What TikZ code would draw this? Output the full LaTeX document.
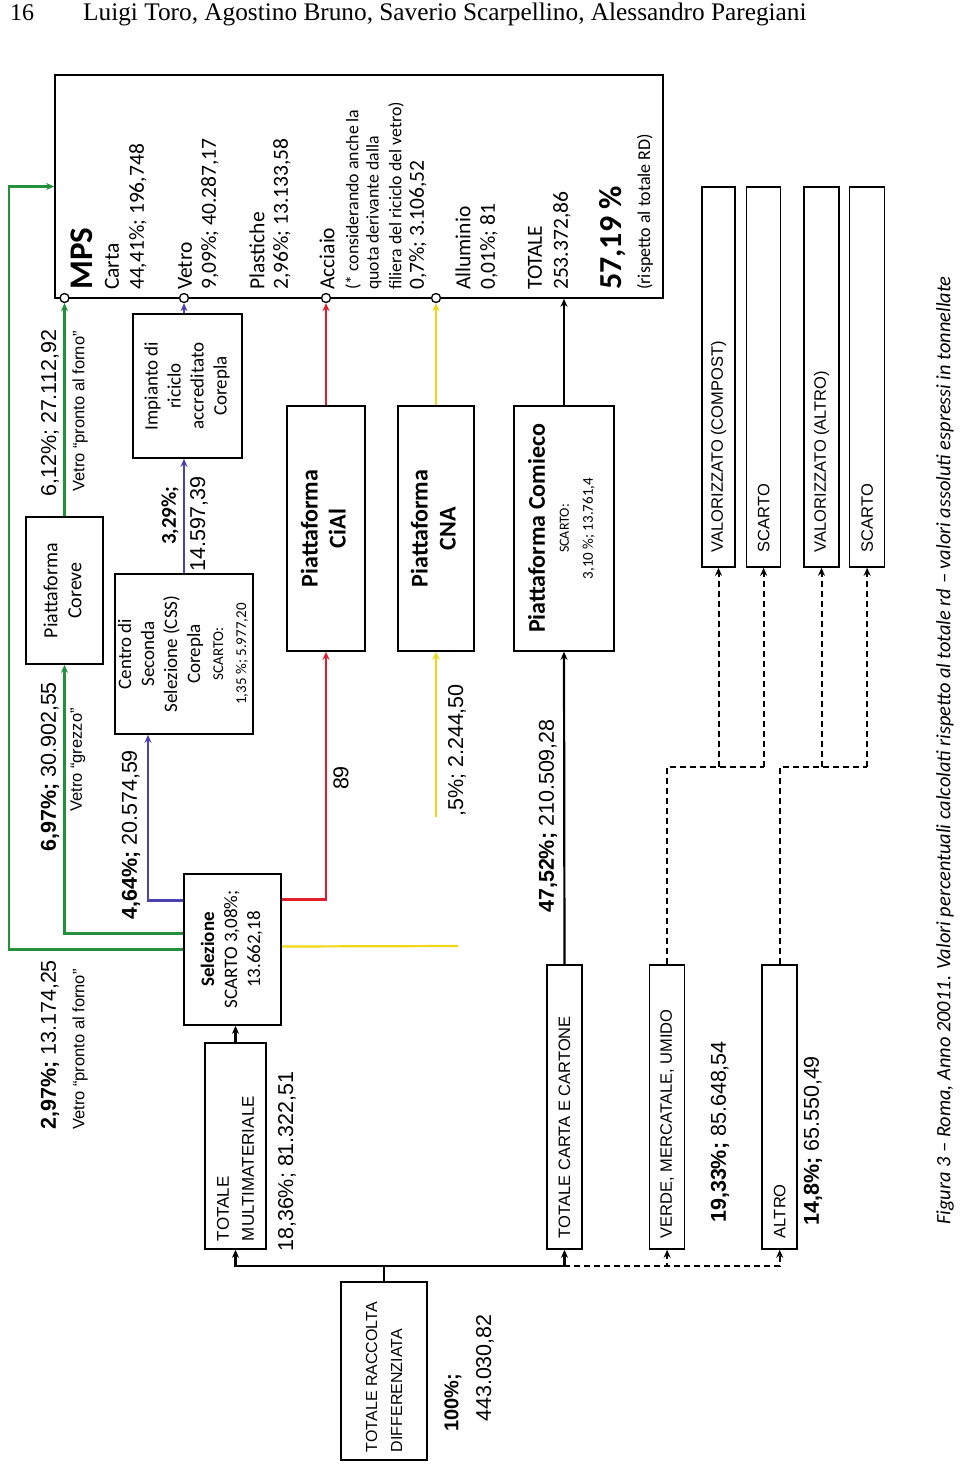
\documentclass[tikz,border=0pt]{standalone}
\usepackage{fontspec}
\usepackage{graphicx}
\setmainfont{Carlito}
\newfontfamily\arialf{Liberation Sans}
\newfontfamily\serf{Liberation Serif}
\usetikzlibrary{arrows.meta,positioning,calc}
\definecolor{VetroGreen}{RGB}{35,145,60}
\definecolor{PlastBlue}{RGB}{75,65,175}
\definecolor{AccRed}{RGB}{225,30,45}
\definecolor{AlYellow}{RGB}{240,215,20}
\newcommand{\fs}[2]{\fontsize{#1}{#2}\selectfont}
\newcommand{\rotmid}[1]{\rotatebox{90}{\begin{tabular}{@{}c@{}}#1\end{tabular}}}
\newcommand{\rotleft}[2]{\rotatebox{90}{\parbox{#1}{\raggedright #2}}}

\begin{document}
\begin{tikzpicture}[x=1pt,y=-1pt,>={Stealth[length=8pt,width=7pt]},
    box/.style 2 args={draw,line width=1.6pt,inner sep=0pt,minimum width=#1,minimum height=#2},
    port/.style={circle,draw,line width=1.3pt,fill=white,inner sep=0pt,minimum size=9pt},
    rot/.style={rotate=90,inner sep=0pt,anchor=west},
    mpsline/.style={rot,font=\fs{21.5}{24}},
    note/.style={rot,font=\fs{17.8}{20}},
    lab/.style={rot,font=\arialf\fs{21.5}{24}},
    labsmall/.style={rot,font=\arialf\fs{16.5}{19}},
    flow/.style={line width=2.2pt},
    dflow/.style={line width=2pt,dash pattern=on 6pt off 4pt}]

    \useasboundingbox (0,0) rectangle (960,1465);

    % page header
    \node[anchor=base west,inner sep=0pt,font=\serf\fs{24}{28}] (pagenum) at (10,20) {16};
    \node[anchor=base west,inner sep=0pt,font=\serf\fs{25.3}{28}] (authors) at (83,20)
        {Luigi Toro, Agostino Bruno, Saverio Scarpellino, Alessandro Paregiani};

    % the MPS box and its inlets
    \node[box={608pt}{223pt}] (mps) at (359,186.5) {};
    \node[port] (pcarta) at (64.5,298) {};
    \node[port] (pvetro) at (184,298) {};
    \node[port] (pacc) at (326,298) {};
    \node[port] (pall) at (436,298) {};

    % contents of the MPS box
    \node[rot,font=\fs{33}{36}\bfseries] (mpstitle) at (82,290) {MPS};
    \foreach \x/\t in {112/Carta, 138/{44,41\%; 196,748}, 185/Vetro, 210/{9,09\%; 40.287,17},
        257/Plastiche, 282/{2,96\%; 13.133,58}, 327/Acciaio, 418/{0,7\%; 3.106,52},
        463/Alluminio, 489/{0,01\%; 81}, 535/TOTALE, 562/{253.372,86}}
        \node[mpsline] (mt\x) at (\x,290) {\t};
    \node[note] (nota1) at (353,290) {(* considerando anche la};
    \node[note] (nota2) at (374,290) {quota derivante dalla};
    \node[note] (nota3) at (396,290) {filiera del riciclo del vetro)};
    \node[rot,font=\fs{32}{36}\bfseries] (quota) at (613,290) {57,19 \%};
    \node[rot,font=\fs{18}{20}] (rispetto) at (645,290) {(rispetto al totale RD)};

    % platforms and plants
    \node[box={77pt}{147pt},font=\fs{20}{24}] (coreve) at (64.5,590.5) {\rotmid{Piattaforma\\Coreve}};
    \node[box={136pt}{160pt},font=\fs{19}{23}] (css) at (184,654)
        {\rotmid{Centro di\\Seconda\\Selezione (CSS)\\Corepla\\{\fs{15}{22}SCARTO:}\\{\fs{15}{22}1,35 \%; 5.977,20}}};
    \node[box={109pt}{144pt},font=\fs{19}{23}] (impianto) at (187.5,386)
        {\rotmid{Impianto di\\riciclo\\accreditato\\Corepla}};
    \node[box={97pt}{151pt},font=\fs{19}{23}] (sel) at (232.5,949.5)
        {\rotmid{\textbf{Selezione}\\SCARTO 3,08\%;\\13.662,18}};
    \node[box={78pt}{245pt},font=\fs{24}{28}\bfseries] (cial) at (326,528.5) {\rotmid{Piattaforma\\CiAl}};
    \node[box={76pt}{245pt},font=\fs{24}{28}\bfseries] (cna) at (436,528.5) {\rotmid{Piattaforma\\CNA}};
    \node[box={100pt}{245pt},font=\fs{24}{24}] (comieco) at (564,528.5)
        {\rotmid{\textbf{Piattaforma Comieco}\\{\fs{14}{22}SCARTO:}\\{\fs{15}{22}3,10 \%; 13.761,4}}};

    % collected fractions
    \node[box={61pt}{206pt},font=\arialf\fs{17}{25}] (multi) at (235.5,1146) {\rotleft{190pt}{TOTALE\\MULTIMATERIALE}};
    \node[box={35pt}{284pt},font=\arialf\fs{16.5}{20}] (tcc) at (564.5,1107) {\rotleft{262pt}{TOTALE CARTA E CARTONE}};
    \node[box={35pt}{284pt},font=\arialf\fs{16.5}{20},right=66pt of tcc] (verde) {\rotleft{262pt}{VERDE, MERCATALE, UMIDO}};
    \node[box={35pt}{284pt},font=\arialf\fs{16.5}{20},right=76pt of verde] (altro) {\rotleft{262pt}{ALTRO}};
    \node[box={86pt}{178pt},font=\arialf\fs{16}{25}] (trd) at (384,1371) {\rotleft{162pt}{TOTALE RACCOLTA\\DIFFERENZIATA}};

    % destinations of organic and other
    \node[box={33pt}{380pt},font=\arialf\fs{16.5}{20}] (valc) at (718.5,377) {\rotleft{350pt}{VALORIZZATO (COMPOST)}};
    \node[box={34pt}{380pt},font=\arialf\fs{16.5}{20},right=10pt of valc] (scc) {\rotleft{350pt}{SCARTO}};
    \node[box={35pt}{380pt},font=\arialf\fs{16.5}{20}] (vala) at (821.5,377) {\rotleft{350pt}{VALORIZZATO (ALTRO)}};
    \node[box={35pt}{380pt},font=\arialf\fs{16.5}{20},right=9pt of vala] (sca) {\rotleft{350pt}{SCARTO}};

    % glass flows
    \draw[flow,VetroGreen,->] (sel.west) -| ([xshift=-45pt]mps.west) -- (mps.west);
    \draw[flow,VetroGreen,->] ([yshift=16pt]sel.west) -| (coreve.south);
    \draw[flow,VetroGreen,->] (coreve.north) -- (pcarta);
    % plastics
    \draw[flow,PlastBlue,->] ([yshift=49pt]sel.west) -| ([xshift=-36pt]css.south);
    \draw[flow,PlastBlue,->] (css.north) -- (css.north |- impianto.south);
    \draw[flow,PlastBlue,->] (impianto.north -| css.north) -- (pvetro);
    % steel
    \draw[flow,AccRed,->] ([yshift=50pt]sel.east) -| (cial.south);
    \draw[flow,AccRed,->] (cial.north) -- (pacc);
    % aluminium
    \coordinate (yend) at (458,946);
    \coordinate (ystart) at (436,817);
    \draw[flow,AlYellow] ([yshift=3pt]sel.east) -- (yend);
    \draw[flow,AlYellow,->] (ystart) -- (cna.south);
    \draw[flow,AlYellow,->] (cna.north) -- (pall);
    % paper
    \draw[flow,->] (tcc.north) -- (comieco.south);
    \draw[flow,->] (comieco.north) -- (comieco.north |- mps.south);
    \draw[flow,->] (multi.north) -- (multi.north |- sel.south);

    % distribution bus
    \coordinate (bus) at (trd.north |- 0,1266);
    \draw[flow] (trd.north) -- (bus);
    \draw[flow,->] (bus) -| (multi.south);
    \draw[flow,->] (bus) -| (tcc.south);
    \draw[dflow,->] (bus) -| (verde.south);
    \draw[dflow,->] (bus) -| (altro.south);

    % organic and other split
    \draw[dflow] (verde.north) |- (scc.south |- 0,767);
    \draw[dflow] (altro.north) |- (sca.south |- 0,767);
    \foreach \b in {valc,scc,vala,sca}
        \draw[dflow,->] (\b.south |- 0,767) -- (\b.south);

    % flow labels
    \node[lab] (l297) at (50,1130) {\textbf{2,97\%;} 13.174,25};
    \node[labsmall] (l297v) at (80,1130) {Vetro “pronto al forno”};
    \node[lab] (l697) at (50,852) {\textbf{6,97\%;} 30.902,55};
    \node[labsmall] (l697v) at (78,812) {Vetro “grezzo”};
    \node[lab] (l612) at (50,497) {6,12\%; 27.112,92};
    \node[labsmall] (l612v) at (80,492) {Vetro “pronto al forno”};
    \node[lab] (l464) at (131,920) {\textbf{4,64\%;} 20.574,59};
    \node[rot,font=\fs{21}{24}\bfseries] (l329) at (170,545) {3,29\%;};
    \node[lab] (l329b) at (199,572) {14.597,39};
    \node[lab,anchor=center] (l89) at (341,778) {89};
    \node[lab] (l05) at (457,817) {,5\%; 2.244,50};
    \node[lab] (l4752) at (548,913) {\textbf{47,52\%;} 210.509,28};
    \node[lab] (l1836) at (287,1252) {18,36\%; 81.322,51};
    \node[lab] (l1933) at (720,1223) {\textbf{19,33\%;} 85.648,54};
    \node[lab] (l148) at (813,1226) {\textbf{14,8\%;} 65.550,49};
    \node[lab,font=\arialf\fs{20}{24}\bfseries] (l100) at (453,1432) {100\%;};
    \node[lab] (l443) at (485,1422) {443.030,82};

    % caption
    \node[rot,font=\itshape\fs{20.4}{24}] (caption) at (945,1225)
        {Figura 3 – Roma, Anno 20011. Valori percentuali calcolati rispetto al totale rd – valori assoluti espressi in tonnellate};
\end{tikzpicture}
\end{document}
